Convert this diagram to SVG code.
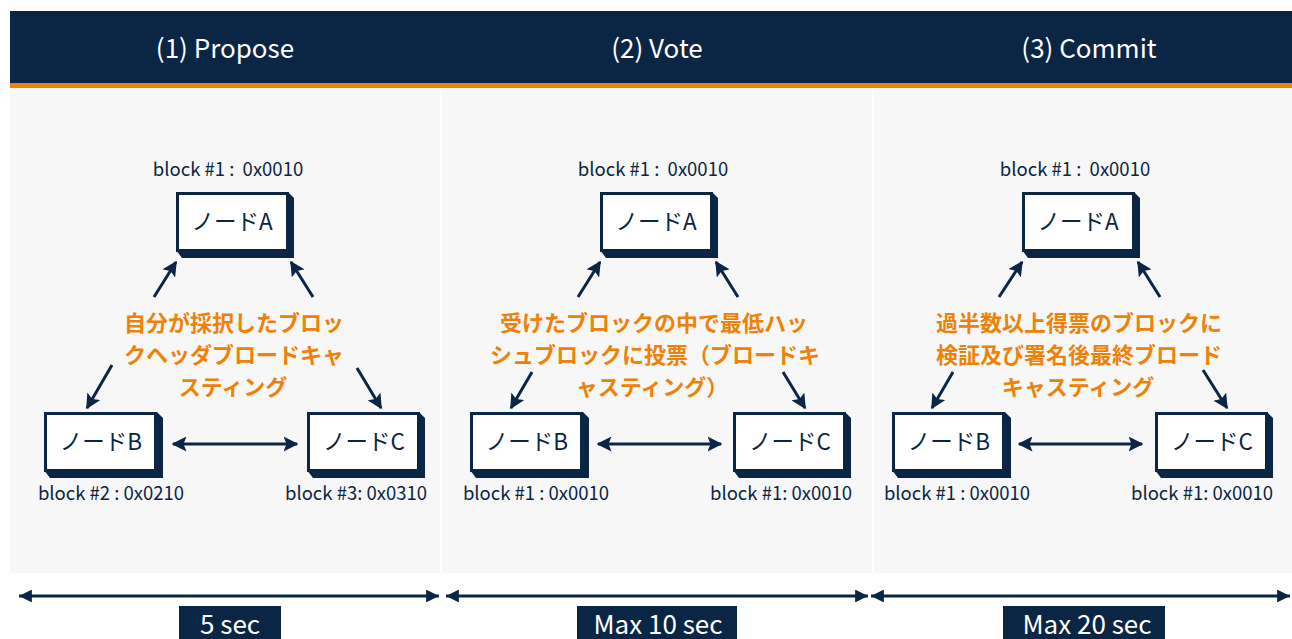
<svg xmlns="http://www.w3.org/2000/svg" width="1292" height="639" viewBox="0 0 1292 639">
<defs>
<style>
.hdr{fill:#0b2545}
.hdrt{fill:#ffffff;font-family:"Noto Sans CJK JP","Noto Sans",sans-serif;font-size:26px;text-anchor:middle}
.panel{fill:#f7f7f7}
.front{fill:#ffffff;stroke:#0b2545;stroke-width:3}
.ext{fill:#0b2545}
.nt{fill:#0b2545;font-family:"Noto Sans CJK JP","Noto Sans",sans-serif;font-size:22.5px;text-anchor:middle}
.lbl{fill:#0b2545;font-family:"Noto Sans CJK JP","Noto Sans",sans-serif;font-size:18.5px;text-anchor:middle;white-space:pre}
.desc{fill:#ee8208;font-family:"Noto Sans CJK JP","Noto Sans",sans-serif;font-size:22px;font-weight:bold;text-anchor:middle}
.con{stroke:#0b2545;stroke-width:3;fill:none}
.tl{fill:#ffffff;font-family:"Noto Sans CJK JP","Noto Sans",sans-serif;font-size:26px;text-anchor:middle}
</style>
<marker id="ah" viewBox="0 0 10 10" refX="9" refY="5" markerWidth="5" markerHeight="5" markerUnits="strokeWidth" orient="auto-start-reverse">
<path d="M0,0 L10,5 L0,10 L2,5 Z" fill="#0b2545"/>
</marker>
<marker id="th" viewBox="0 0 10 10" refX="10" refY="5" markerWidth="6" markerHeight="4.3" markerUnits="strokeWidth" orient="auto-start-reverse">
<path d="M0,0 L10,5 L0,10 Z" fill="#0b2545"/>
</marker>
</defs>

<g id="header">
<rect class="hdr" x="10" y="11" width="1282" height="72"/>
<rect x="10" y="83" width="1282" height="5" fill="#ee8208"/>
<text class="hdrt" x="225" y="58">(1) Propose</text>
<text class="hdrt" x="657" y="58">(2) Vote</text>
<text class="hdrt" x="1089" y="58">(3) Commit</text>
</g>

<g id="panels">
<rect class="panel" x="10" y="88" width="430" height="485"/>
<rect class="panel" x="442" y="88" width="430" height="485"/>
<rect class="panel" x="874" y="88" width="418" height="485"/>
</g>

<g id="connectors">
<line class="con" x1="154" y1="297" x2="176" y2="262" marker-end="url(#ah)"/>
<line class="con" x1="313" y1="297" x2="291" y2="262" marker-end="url(#ah)"/>
<line class="con" x1="112" y1="365" x2="87" y2="408" marker-end="url(#ah)"/>
<line class="con" x1="357" y1="368" x2="381" y2="408" marker-end="url(#ah)"/>
<line class="con" x1="173" y1="444" x2="297" y2="444" marker-start="url(#ah)" marker-end="url(#ah)"/>
<line class="con" x1="578" y1="297" x2="600" y2="262" marker-end="url(#ah)"/>
<line class="con" x1="738" y1="297" x2="716" y2="262" marker-end="url(#ah)"/>
<line class="con" x1="532" y1="372" x2="511" y2="408" marker-end="url(#ah)"/>
<line class="con" x1="783" y1="372" x2="805" y2="408" marker-end="url(#ah)"/>
<line class="con" x1="598" y1="444" x2="721" y2="444" marker-start="url(#ah)" marker-end="url(#ah)"/>
<line class="con" x1="999" y1="297" x2="1022" y2="262" marker-end="url(#ah)"/>
<line class="con" x1="1160" y1="297" x2="1138" y2="262" marker-end="url(#ah)"/>
<line class="con" x1="953" y1="372" x2="932" y2="408" marker-end="url(#ah)"/>
<line class="con" x1="1203" y1="370" x2="1227" y2="408" marker-end="url(#ah)"/>
<line class="con" x1="1019" y1="444" x2="1142" y2="444" marker-start="url(#ah)" marker-end="url(#ah)"/>
<line class="con" x1="19" y1="596" x2="439" y2="596" marker-start="url(#th)" marker-end="url(#th)"/>
<line class="con" x1="446" y1="596" x2="868" y2="596" marker-start="url(#th)" marker-end="url(#th)"/>
<line class="con" x1="871" y1="596" x2="1290" y2="596" marker-start="url(#th)" marker-end="url(#th)"/>
</g>

<g id="p1-nodeA">
<polygon class="ext" points="176,250 288,250 288,192 294,198 294,258 182,258"/>
<rect class="front" x="177.5" y="193.5" width="110" height="57"/>
<text class="nt" x="232" y="230">ノードA</text>
<text class="lbl" x="228" y="176" xml:space="preserve">block #1 :  0x0010</text>
</g>
<g id="p1-nodeB">
<polygon class="ext" points="44,470 157,470 157,412 163,418 163,478 50,478"/>
<rect class="front" x="45.5" y="413.5" width="110" height="57"/>
<text class="nt" x="101" y="450">ノードB</text>
<text class="lbl" x="111" y="500">block #2 : 0x0210</text>
</g>
<g id="p1-nodeC">
<polygon class="ext" points="307,470 419,470 419,412 425,418 425,478 313,478"/>
<rect class="front" x="308.5" y="413.5" width="110" height="57"/>
<text class="nt" x="364" y="450">ノードC</text>
<text class="lbl" x="356" y="500">block #3: 0x0310</text>
</g>
<g id="p1-desc">
<text class="desc" x="234" y="331">自分が採択したブロッ</text>
<text class="desc" x="234" y="363">クヘッダブロードキャ</text>
<text class="desc" x="233" y="395">スティング</text>
</g>

<g id="p2-nodeA">
<polygon class="ext" points="600,250 712,250 712,192 718,198 718,258 606,258"/>
<rect class="front" x="601.5" y="193.5" width="110" height="57"/>
<text class="nt" x="656" y="230">ノードA</text>
<text class="lbl" x="653" y="176" xml:space="preserve">block #1 :  0x0010</text>
</g>
<g id="p2-nodeB">
<polygon class="ext" points="470,470 583,470 583,412 589,418 589,478 476,478"/>
<rect class="front" x="471.5" y="413.5" width="110" height="57"/>
<text class="nt" x="527" y="450">ノードB</text>
<text class="lbl" x="536" y="500">block #1 : 0x0010</text>
</g>
<g id="p2-nodeC">
<polygon class="ext" points="733,470 845,470 845,412 851,418 851,478 739,478"/>
<rect class="front" x="734.5" y="413.5" width="110" height="57"/>
<text class="nt" x="790" y="450">ノードC</text>
<text class="lbl" x="781" y="500">block #1: 0x0010</text>
</g>
<g id="p2-desc">
<text class="desc" x="654" y="331">受けたブロックの中で最低ハッ</text>
<text class="desc" x="655" y="363">シュブロックに投票（ブロードキ</text>
<text class="desc" x="652" y="395">ャスティング）</text>
</g>

<g id="p3-nodeA">
<polygon class="ext" points="1022,250 1134,250 1134,192 1140,198 1140,258 1028,258"/>
<rect class="front" x="1023.5" y="193.5" width="110" height="57"/>
<text class="nt" x="1078" y="230">ノードA</text>
<text class="lbl" x="1075" y="176" xml:space="preserve">block #1 :  0x0010</text>
</g>
<g id="p3-nodeB">
<polygon class="ext" points="892,470 1005,470 1005,412 1011,418 1011,478 898,478"/>
<rect class="front" x="893.5" y="413.5" width="110" height="57"/>
<text class="nt" x="949" y="450">ノードB</text>
<text class="lbl" x="957" y="500">block #1 : 0x0010</text>
</g>
<g id="p3-nodeC">
<polygon class="ext" points="1155,470 1267,470 1267,412 1273,418 1273,478 1161,478"/>
<rect class="front" x="1156.5" y="413.5" width="110" height="57"/>
<text class="nt" x="1212" y="450">ノードC</text>
<text class="lbl" x="1202" y="500">block #1: 0x0010</text>
</g>
<g id="p3-desc">
<text class="desc" x="1079" y="331">過半数以上得票のブロックに</text>
<text class="desc" x="1079" y="363">検証及び署名後最終ブロード</text>
<text class="desc" x="1078" y="395">キャスティング</text>
</g>

<g id="time-labels">
<rect class="hdr" x="179" y="606" width="102" height="40"/>
<text class="tl" x="230" y="634">5 sec</text>
<rect class="hdr" x="577" y="606" width="160" height="40"/>
<text class="tl" x="658" y="634">Max 10 sec</text>
<rect class="hdr" x="1003" y="606" width="162" height="40"/>
<text class="tl" x="1087" y="634">Max 20 sec</text>
</g>
</svg>
